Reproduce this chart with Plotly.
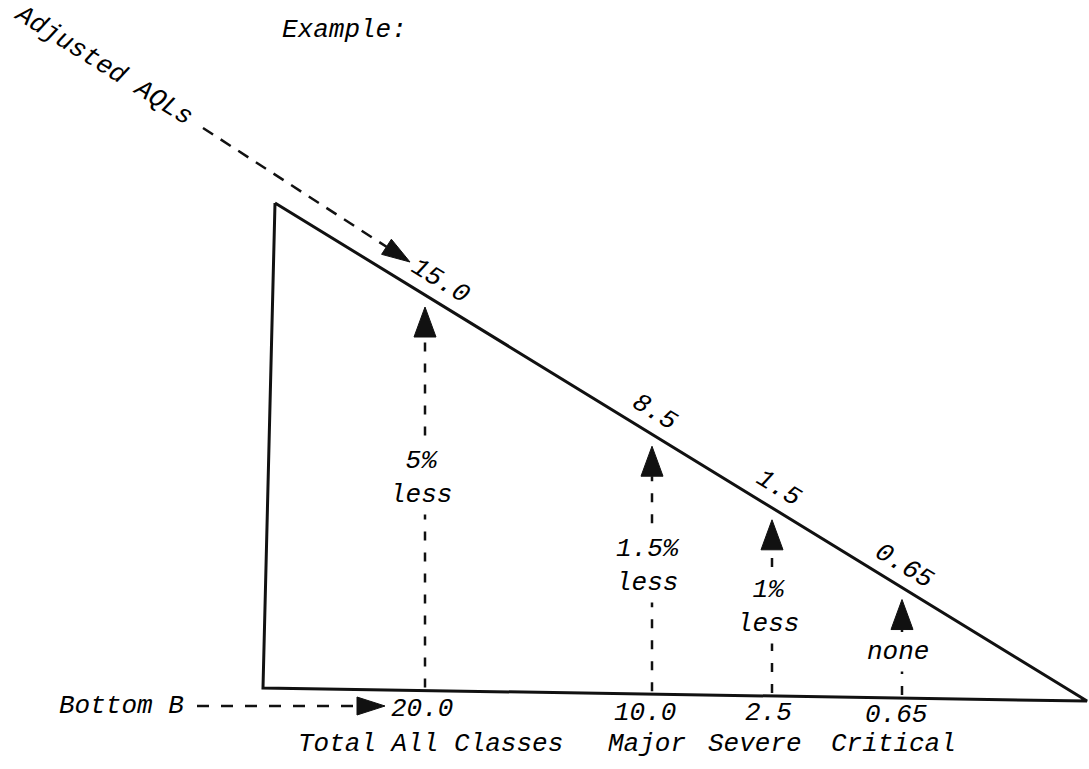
import math
import plotly.graph_objects as go

# ---------------- data ----------------
classes = ["Total All Classes", "Major", "Severe", "Critical"]
bottom_values = ["20.0", "10.0", "2.5", "0.65"]
adjusted_values = ["15.0", "8.5", "1.5", "0.65"]
reductions = ["5%<br>less", "1.5%<br>less", "1%<br>less", "none"]

# ---------------- layout geometry (pixel canvas) ----------------
W, H = 1089, 769
tri_top = (275, 203)
tri_bl = (263, 688)
tri_br = (1087, 701)
class_x = [425, 652, 772, 902]           # where each class's arrow stands
adj_label_x = [440, 654, 778, 904]       # adjusted value label along hypotenuse
red_label_y = [478, 566, 607, 652]       # reduction text centre heights
bottom_label_x = [422, 645, 768, 896]
bottom_label_y = [709, 713, 713, 715]
class_label_x = [430, 647, 755, 893]
class_label_y = [744, 744, 744, 744]

FONT = dict(family="Liberation Mono", size=26, color="black", style="italic")
INK = "#111111"


def hyp_y(x):
    (x0, y0), (x1, y1) = tri_top, tri_br
    return y0 + (x - x0) * (y1 - y0) / (x1 - x0)


def bot_y(x):
    (x0, y0), (x1, y1) = tri_bl, tri_br
    return y0 + (x - x0) * (y1 - y0) / (x1 - x0)


angle = math.degrees(math.atan2(tri_br[1] - tri_top[1], tri_br[0] - tri_top[0]))

fig = go.Figure()


def head(tip, direction_deg, length=30, half=11):
    a = math.radians(direction_deg)
    ux, uy = math.cos(a), math.sin(a)
    bx, by = tip[0] - ux * length, tip[1] - uy * length
    px, py = -uy, ux
    xs = [tip[0], bx + px * half, bx - px * half, tip[0]]
    ys = [tip[1], by + py * half, by - py * half, tip[1]]
    fig.add_trace(go.Scatter(x=xs, y=ys, mode="lines", fill="toself",
                             fillcolor=INK, line=dict(color=INK, width=1),
                             hoverinfo="skip", showlegend=False))
    return bx, by


# triangle
fig.add_trace(go.Scatter(
    x=[tri_top[0], tri_bl[0], tri_br[0], tri_top[0]],
    y=[tri_top[1], tri_bl[1], tri_br[1], tri_top[1]],
    mode="lines", line=dict(color=INK, width=3),
    hoverinfo="skip", showlegend=False))

# vertical dashed arrows from bottom to hypotenuse
for x in class_x:
    tip = (x, hyp_y(x) + 12)
    bx, by = head(tip, -90)
    fig.add_trace(go.Scatter(x=[x, x], y=[bot_y(x) - 3, by],
                             mode="lines", line=dict(color=INK, width=2.5, dash="9px,12px"),
                             hoverinfo="skip", showlegend=False))

# "Adjusted AQLs" dashed arrow
start, tip = (203, 128), (410, 262)
d = math.degrees(math.atan2(tip[1] - start[1], tip[0] - start[0]))
bx, by = head(tip, d, length=28, half=9)
fig.add_trace(go.Scatter(x=[start[0], bx], y=[start[1], by], mode="lines",
                         line=dict(color=INK, width=2.5, dash="12px,9px"),
                         hoverinfo="skip", showlegend=False))

# "Bottom B" dashed arrow
start, tip = (197, 706), (385, 706)
bx, by = head(tip, 0, length=28, half=9)
fig.add_trace(go.Scatter(x=[start[0], bx], y=[start[1], by], mode="lines",
                         line=dict(color=INK, width=2.5, dash="12px,12px"),
                         hoverinfo="skip", showlegend=False))

ann = []
ann.append(dict(x=344, y=30, text="Example:", textangle=0))
ann.append(dict(x=103, y=65, text="Adjusted AQLs", textangle=32))
ann.append(dict(x=121, y=706, text="Bottom B", textangle=0))

for i in range(4):
    lx = adj_label_x[i]
    ann.append(dict(x=lx, y=hyp_y(lx) - 23, text=adjusted_values[i], textangle=angle))
    ann.append(dict(x=class_x[i] - 4, y=red_label_y[i], text=reductions[i], textangle=0,
                    bgcolor="white", borderpad=4))
    ann.append(dict(x=bottom_label_x[i], y=bottom_label_y[i], text=bottom_values[i], textangle=0))
    ann.append(dict(x=class_label_x[i], y=class_label_y[i], text=classes[i], textangle=0))

fig.update_layout(
    annotations=[dict(a, xref="x", yref="y", showarrow=False, font=FONT,
                      xanchor="center", yanchor="middle") for a in ann],
    width=W, height=H, autosize=False,
    margin=dict(l=0, r=0, t=0, b=0),
    paper_bgcolor="white", plot_bgcolor="white",
    xaxis=dict(range=[0, W], visible=False, fixedrange=True),
    yaxis=dict(range=[H, 0], visible=False, fixedrange=True),
    showlegend=False,
)

fig.write_html("out.html", config={"displayModeBar": False},
               post_script="document.body.style.margin='0';")
